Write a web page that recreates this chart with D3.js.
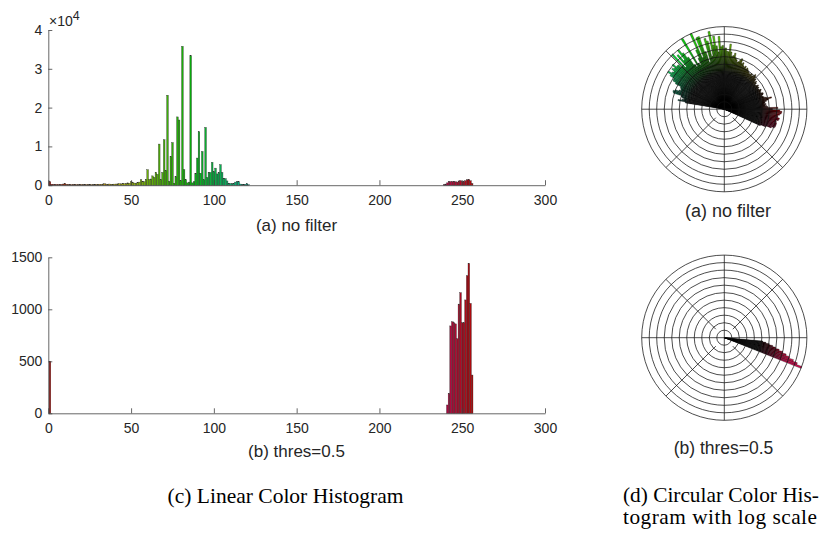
<!DOCTYPE html>
<html><head><meta charset="utf-8">
<script src="https://cdn.jsdelivr.net/npm/d3@7"></script>
<style>body{margin:0;background:#fff}svg{display:block}</style>
</head><body><svg id="c" width="828" height="535"></svg>
<script>
// ---------- data ----------
const xTicks = [0, 50, 100, 150, 200, 250, 300];
const yTicksTop = [0, 10000, 20000, 30000, 40000];
const yTickLabelsTop = ["0", "1", "2", "3", "4"];
const yTicksBottom = [0, 500, 1000, 1500];
const nBins = 256;

// (a) no filter : counts for hue bins 0..121
const countsTopLow = [
  0, 900, 260, 220, 180, 210, 170, 190, 230, 300,
  480, 260, 200, 170, 160, 190, 210, 170, 150, 180,
  200, 160, 150, 180, 170, 200, 160, 150, 190, 220,
  180, 250, 230, 300, 380, 280, 240, 300, 260, 250,
  280, 300, 350, 400, 320, 450, 380, 420, 600, 500,
  900, 700, 550, 500, 650, 800, 1400, 1000, 900, 1500,
  4000, 1500, 1600, 2400, 2000, 3300, 2800, 10600, 1500, 3300,
  11700, 3800, 23200, 1000, 7400, 11000, 500, 2200, 17600, 16800,
  1200, 35800, 4000, 1400, 600, 800, 33400, 600, 900, 3100,
  7000, 13800, 3100, 8700, 1400, 14900, 2000, 3300, 3300, 5900,
  3500, 4400, 2900, 3300, 5300, 3300, 1800, 1700, 1100, 500,
  450, 400, 500, 800, 1000, 900, 300, 250, 200, 250,
  400, 150
];
const binStartTopLow = 0;
// (a) no filter : counts for hue bins 239..256
const countsTopHigh = [150, 300, 600, 900, 950, 950, 950, 900, 800, 1100, 1200, 950, 950, 1150, 1400, 1500, 1150, 450];
const binStartTopHigh = 239;

// (b) thres=0.5
const binsBottom = [1, 241, 242, 243, 244, 245, 246, 247, 248, 249, 250, 251, 252, 253, 254, 255, 256];
const countsBottom = [500, 80, 192, 840, 880, 870, 860, 717, 1050, 1160, 870, 870, 1090, 1323, 1442, 1057, 368];

// circular histogram (b) thres=0.5, log scale
const polarBBins = [241, 242, 243, 244, 245, 246, 247, 248, 249, 250, 251, 252];
const polarBCounts = [1442, 900, 600, 400, 280, 200, 140, 100, 75, 55, 40, 30];

// ---------- build ----------
const topData = [];
countsTopLow.forEach((c, i) => topData.push({bin: binStartTopLow + i, count: c}));
countsTopHigh.forEach((c, i) => topData.push({bin: binStartTopHigh + i, count: c}));
const bottomData = binsBottom.map((b, i) => ({bin: b, count: countsBottom[i]}));
const polarBData = polarBBins.map((b, i) => ({bin: b, count: polarBCounts[i]}));

const svg = d3.select("#c");
const defs = svg.append("defs");
const hueOf = b => (b / nBins) * 360;
const barColor = b => d3.hsl(hueOf(b), 0.9, 0.36).toString();
const tipColor = b => d3.hsl(hueOf(b), 0.9, 0.43).toString();
const sans = "'Liberation Sans', Arial, Helvetica, sans-serif";
const serif = "'Liberation Serif', 'Times New Roman', serif";
const axisColor = "#404040";
const textColor = "#262626";

function linearChart(data, yDomainMax, yTop, yBottom, yTicks, yLabels) {
  const x = d3.scaleLinear().domain([0, 300]).range([48.3, 545]);
  const y = d3.scaleLinear().domain([0, yDomainMax]).range([yBottom, yTop]);
  const g = svg.append("g");
  const bw = x(1) - x(0);
  g.selectAll("rect").data(data.filter(d => d.count > 0)).join("rect")
    .attr("x", d => x(d.bin) - bw / 2)
    .attr("width", bw)
    .attr("y", d => y(d.count))
    .attr("height", d => y(0) - y(d.count))
    .attr("fill", d => barColor(d.bin))
    .attr("stroke", "#2a2a2a")
    .attr("stroke-width", 0.35);
  const xa = g.append("g").attr("transform", `translate(0,${y(0)})`)
    .call(d3.axisBottom(x).tickValues(xTicks).tickSizeInner(-5).tickSizeOuter(0).tickPadding(10).tickFormat(d3.format("d")));
  const ya = g.append("g").attr("transform", `translate(${x(0)},0)`)
    .call(d3.axisLeft(y).tickValues(yTicks).tickSizeInner(-4).tickSizeOuter(0).tickPadding(6)
      .tickFormat((d, i) => yLabels ? yLabels[i] : d3.format("d")(d)));
  [xa, ya].forEach(a => {
    a.selectAll("path,line").attr("stroke", axisColor).attr("stroke-width", 0.8);
    a.selectAll("text").attr("fill", textColor).style("font-family", sans).style("font-size", "14px");
  });
  return {x, y};
}

linearChart(topData, 40000, 30, 185.2, yTicksTop, yTickLabelsTop);
linearChart(bottomData, 1500, 257.3, 413.3, yTicksBottom, null);

// x10^4 exponent label
const ex = svg.append("text").attr("x", 49).attr("y", 25.5)
  .style("font-family", sans).style("font-size", "14px").attr("fill", textColor);
ex.append("tspan").text("\u00d710");
ex.append("tspan").attr("dy", -6).style("font-size", "12.5px").text("4");

// ---------- polar charts ----------
function polarChart(data, cx, cy, R, key) {
  const g = svg.append("g").attr("transform", `translate(${cx},${cy})`);
  const maxLog = Math.log(d3.max(data, d => d.count));
  const r = d3.scaleLinear().domain([0, maxLog]).range([0, R]);
  const dTheta = 2 * Math.PI / nBins;
  const arc = d3.arc().innerRadius(0)
    .outerRadius(d => r(Math.log(d.count)))
    .startAngle(d => Math.PI / 2 - d.bin * dTheta - dTheta / 2)
    .endAngle(d => Math.PI / 2 - d.bin * dTheta + dTheta / 2);
  const vis = data.filter(d => d.count > 1);
  vis.forEach(d => {
    const gr = defs.append("radialGradient").attr("id", `${key}-${d.bin}`)
      .attr("gradientUnits", "userSpaceOnUse").attr("cx", 0).attr("cy", 0).attr("r", R);
    gr.append("stop").attr("offset", 0).attr("stop-color", "#000");
    gr.append("stop").attr("offset", 0.42).attr("stop-color", "#000");
    gr.append("stop").attr("offset", 0.82).attr("stop-color", tipColor(d.bin));
    gr.append("stop").attr("offset", 1).attr("stop-color", tipColor(d.bin));
  });
  g.selectAll("path.bar").data(vis).join("path").attr("class", "bar")
    .attr("d", arc)
    .attr("fill", d => `url(#${key}-${d.bin})`)
    .attr("stroke", "#000").attr("stroke-width", 0.35);
  // grid
  const rings = d3.range(1, 12).map(k => k * R / 11);
  g.selectAll("circle.ring").data(rings).join("circle").attr("class", "ring")
    .attr("r", d => d).attr("fill", "none").attr("stroke", "#111").attr("stroke-width", 0.75);
  const spokes = d3.range(0, 8).map(k => k * Math.PI / 4);
  g.selectAll("line.spoke").data(spokes).join("line").attr("class", "spoke")
    .attr("x1", a => (a % (Math.PI / 2) === 0 ? 0 : 12) * Math.cos(a))
    .attr("y1", a => -(a % (Math.PI / 2) === 0 ? 0 : 12) * Math.sin(a))
    .attr("x2", a => R * Math.cos(a)).attr("y2", a => -R * Math.sin(a))
    .attr("stroke", "#111").attr("stroke-width", 0.75);
}
polarChart(topData, 724.3, 109.2, 82.6, "pa");
polarChart(polarBData, 724.3, 337.7, 82.6, "pb");

// ---------- captions ----------
function cap(txt, x, y, size, fam, anchor, color) {
  return svg.append("text").attr("x", x).attr("y", y).attr("text-anchor", anchor || "middle")
    .style("font-family", fam).style("font-size", size + "px").attr("fill", color || textColor).text(txt);
}
cap("(a) no filter", 296.5, 231, 17, sans);
cap("(b) thres=0.5", 296.5, 457, 17, sans);
cap("(a) no filter", 728, 217, 18, sans);
cap("(b) thres=0.5", 723.5, 454, 17.5, sans);

// serif captions sized so their widths match the figure
function fitSerif(txt, x, y, width, anchor) {
  const t = cap(txt, x, y, 20, serif, anchor, "#000");
  const w = t.node().getComputedTextLength();
  t.style("font-size", (20 * width / w).toFixed(2) + "px");
  return t;
}
fitSerif("(c) Linear Color Histogram", 285.5, 503, 236, "middle");
const d1 = fitSerif("(d) Circular Color His-", 623, 502, 196, "start");
const fs = d1.style("font-size");
cap("togram with log scale", 623, 524, 20, serif, "start", "#000")
  .style("font-size", fs).attr("textLength", 194).attr("lengthAdjust", "spacing");
</script>
</body></html>
